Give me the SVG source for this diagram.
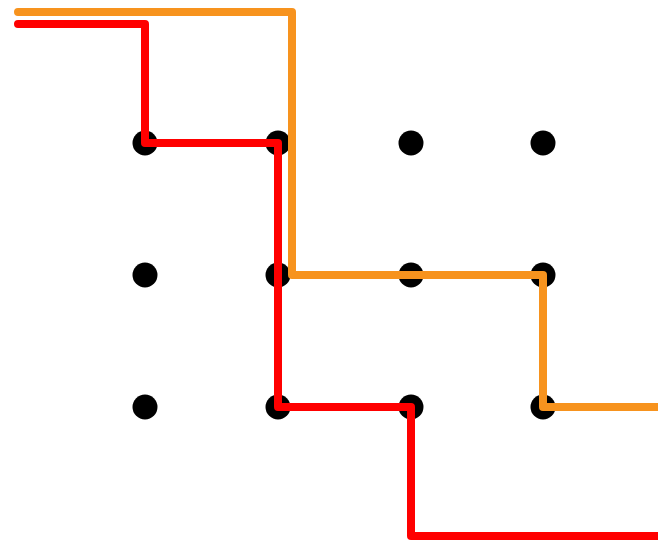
<svg xmlns="http://www.w3.org/2000/svg" width="658" height="541" viewBox="0 0 658 541">
<style>
.dot{fill:#000}
.line{fill:none;stroke-width:8;stroke-linecap:round;stroke-linejoin:round}
.red{stroke:#FF0000}
.orange{stroke:#F7931E}
</style>
<rect width="658" height="541" fill="#fff"/>
<g id="dots">
<circle id="d11" class="dot" cx="145" cy="143" r="12.5"/>
<circle id="d12" class="dot" cx="278" cy="143" r="12.5"/>
<circle id="d13" class="dot" cx="411" cy="143" r="12.5"/>
<circle id="d14" class="dot" cx="543" cy="143" r="12.5"/>
<circle id="d21" class="dot" cx="145" cy="275" r="12.5"/>
<circle id="d22" class="dot" cx="278" cy="275" r="12.5"/>
<circle id="d23" class="dot" cx="411" cy="275" r="12.5"/>
<circle id="d24" class="dot" cx="543" cy="275" r="12.5"/>
<circle id="d31" class="dot" cx="145" cy="407" r="12.5"/>
<circle id="d32" class="dot" cx="278" cy="407" r="12.5"/>
<circle id="d33" class="dot" cx="411" cy="407" r="12.5"/>
<circle id="d34" class="dot" cx="543" cy="407" r="12.5"/>
</g>
<g id="connectors">
<path class="line orange" d="M18 12 H292 V275 H543 V407 H662"/>
<path class="line red" d="M18 24 H145 V143 H278 V407 H411 V536 H662"/>
</g>
</svg>
